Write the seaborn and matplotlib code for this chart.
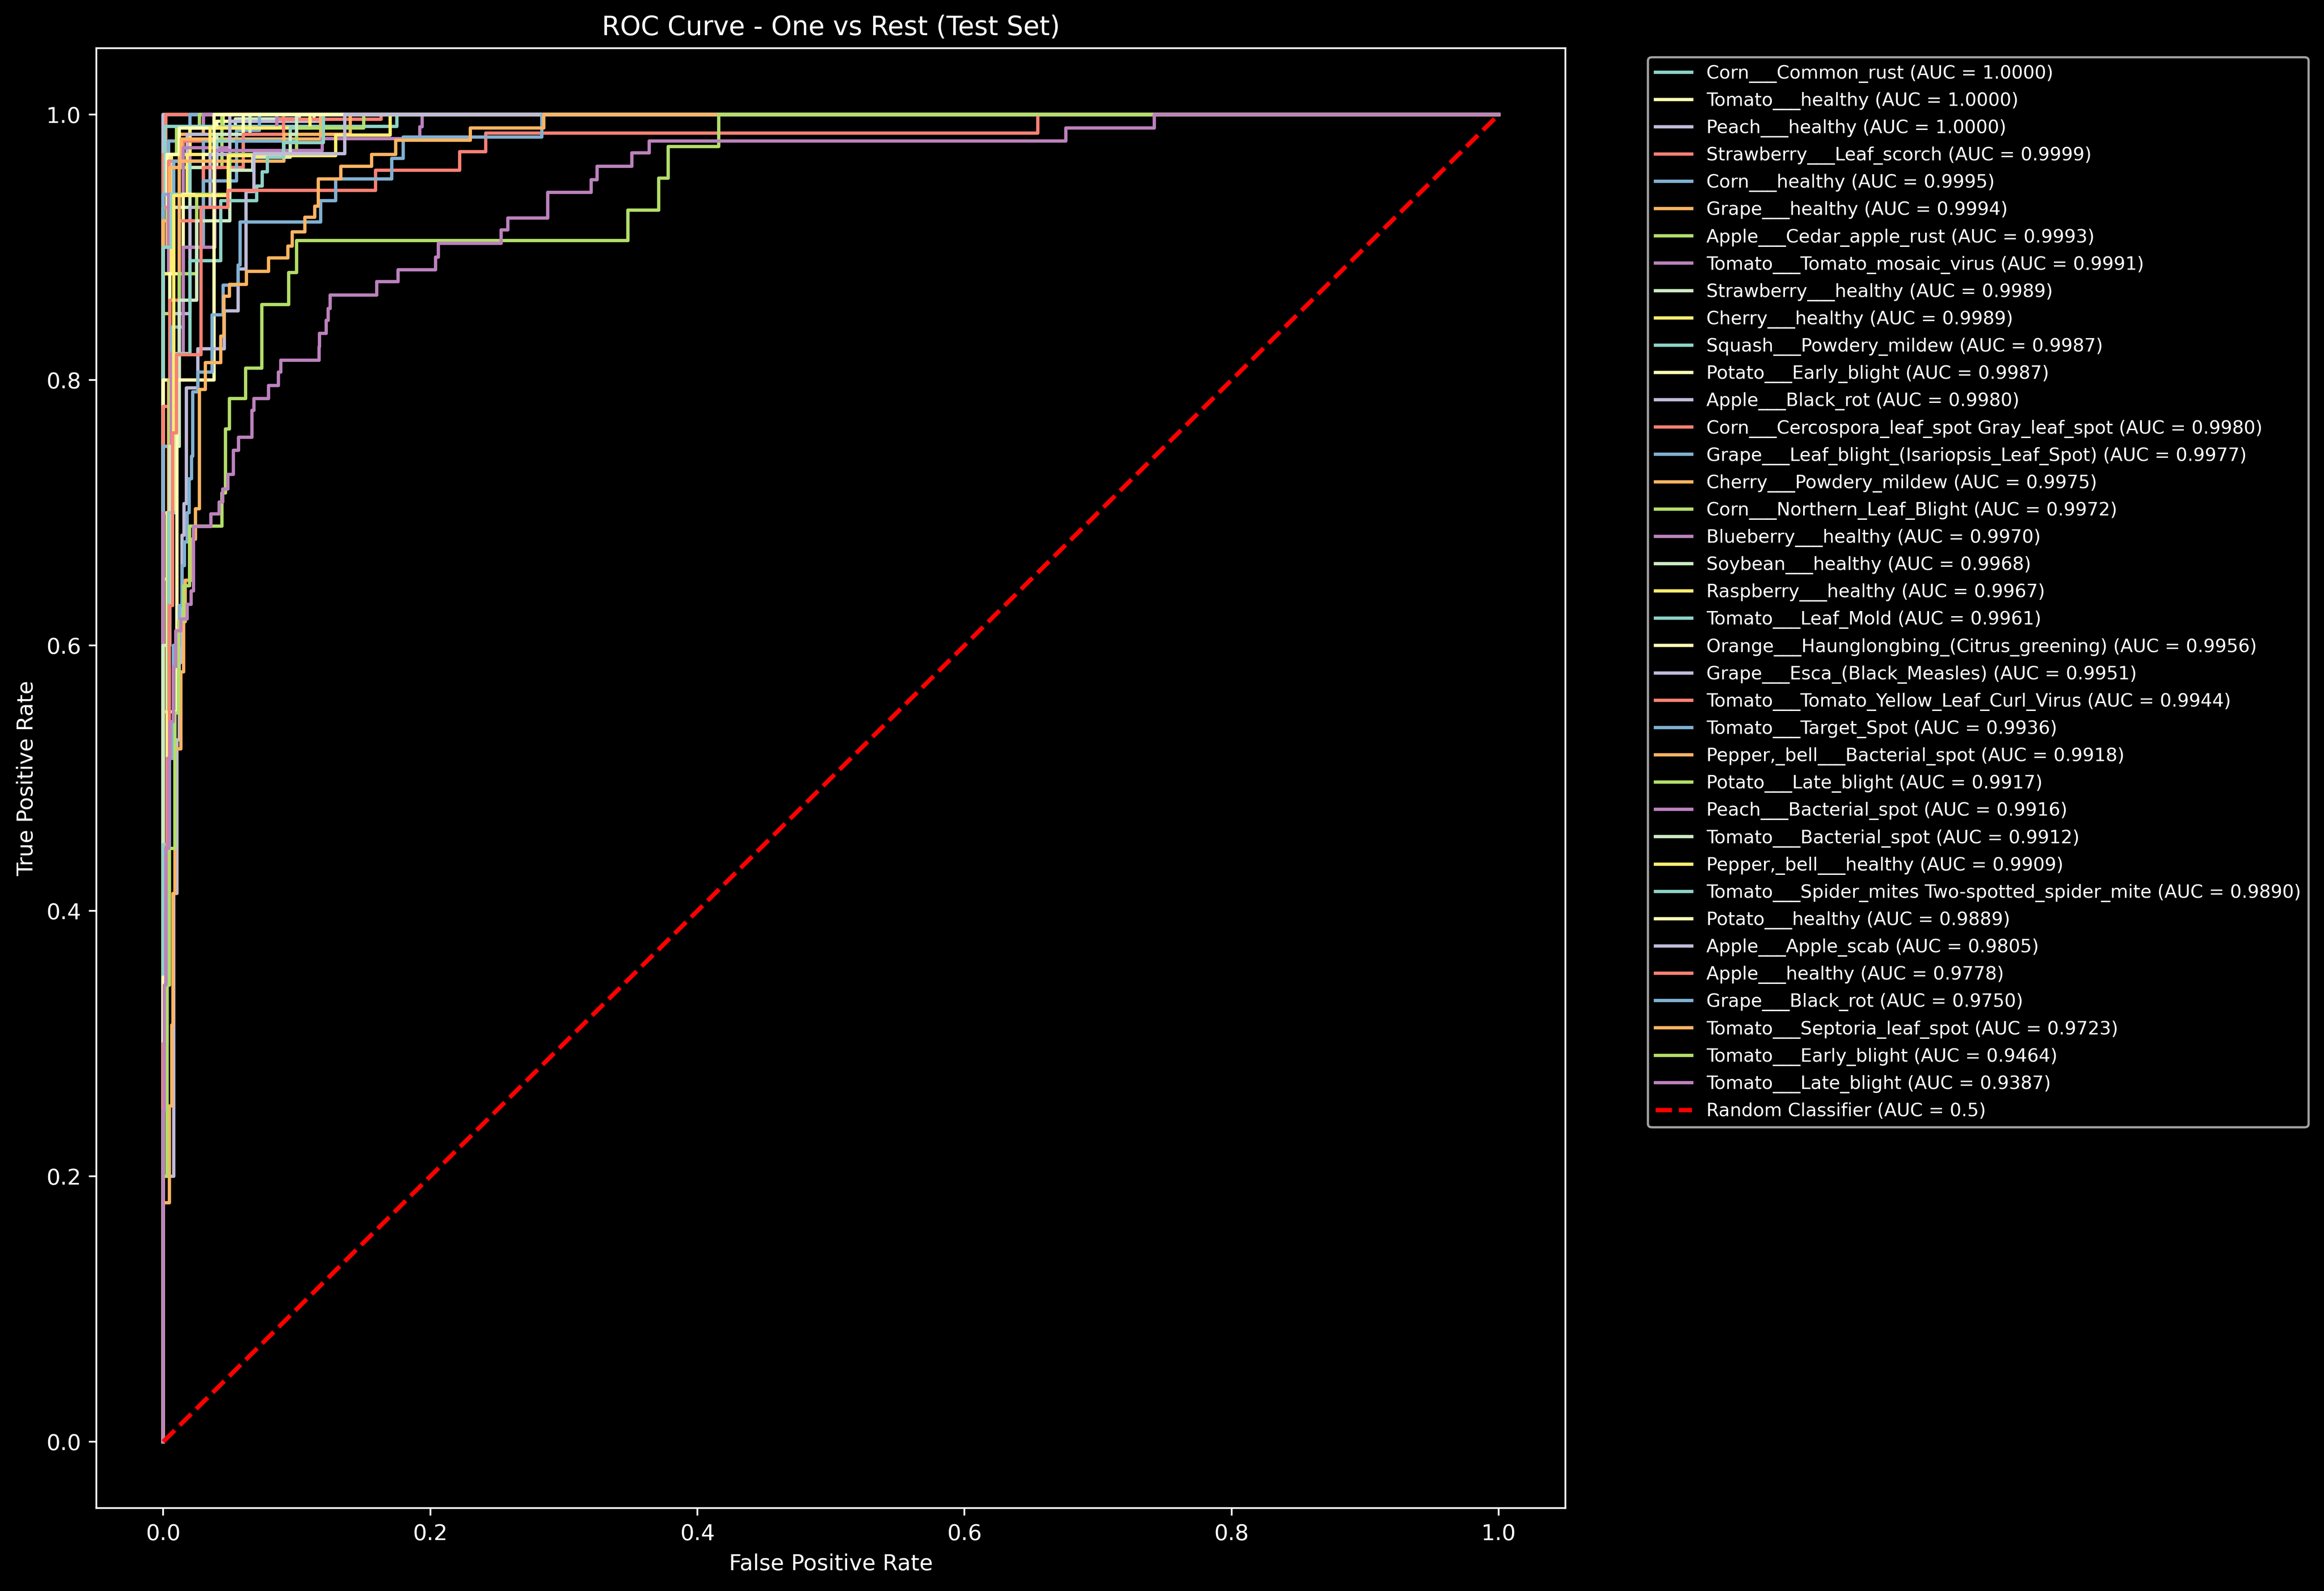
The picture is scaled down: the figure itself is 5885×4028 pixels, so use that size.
import matplotlib
matplotlib.use("Agg")
import matplotlib.pyplot as plt
import seaborn as sns

# Classes ordered by AUC (as in the legend)
class_names = [
    "Corn___Common_rust", "Tomato___healthy", "Peach___healthy",
    "Strawberry___Leaf_scorch", "Corn___healthy", "Grape___healthy",
    "Apple___Cedar_apple_rust", "Tomato___Tomato_mosaic_virus",
    "Strawberry___healthy", "Cherry___healthy", "Squash___Powdery_mildew",
    "Potato___Early_blight", "Apple___Black_rot",
    "Corn___Cercospora_leaf_spot Gray_leaf_spot",
    "Grape___Leaf_blight_(Isariopsis_Leaf_Spot)", "Cherry___Powdery_mildew",
    "Corn___Northern_Leaf_Blight", "Blueberry___healthy", "Soybean___healthy",
    "Raspberry___healthy", "Tomato___Leaf_Mold",
    "Orange___Haunglongbing_(Citrus_greening)", "Grape___Esca_(Black_Measles)",
    "Tomato___Tomato_Yellow_Leaf_Curl_Virus", "Tomato___Target_Spot",
    "Pepper,_bell___Bacterial_spot", "Potato___Late_blight",
    "Peach___Bacterial_spot", "Tomato___Bacterial_spot", "Pepper,_bell___healthy",
    "Tomato___Spider_mites Two-spotted_spider_mite", "Potato___healthy",
    "Apple___Apple_scab", "Apple___healthy", "Grape___Black_rot",
    "Tomato___Septoria_leaf_spot", "Tomato___Early_blight", "Tomato___Late_blight",
]

auc_values = [
    1.0000, 1.0000, 1.0000, 0.9999, 0.9995, 0.9994, 0.9993, 0.9991, 0.9989,
    0.9989, 0.9987, 0.9987, 0.9980, 0.9980, 0.9977, 0.9975, 0.9972, 0.9970,
    0.9968, 0.9967, 0.9961, 0.9956, 0.9951, 0.9944, 0.9936, 0.9918, 0.9917,
    0.9916, 0.9912, 0.9909, 0.9890, 0.9889, 0.9805, 0.9778, 0.9750, 0.9723,
    0.9464, 0.9387,
]

# ROC corner points (top of each vertical step), one list per class
fpr_pts = [
    [0, 0, 1.0],
    [0, 0, 1.0],
    [0, 0, 1.0],
    [0, 0, 0.002, 1.0],
    [0, 0, 0.004, 0.02, 1.0],
    [0, 0, 0.003, 0.012, 0.03, 1.0],
    [0, 0, 0.003, 0.01, 0.027, 1.0],
    [0, 0, 0.005, 0.02, 0.03, 1.0],
    [0, 0, 0.004, 0.02, 0.054, 0.102, 1.0],
    [0, 0, 0.006, 0.02, 0.045, 1.0],
    [0, 0, 0.0015, 0.175, 1.0],
    [0, 0, 0.003, 0.012, 0.04, 0.113, 1.0],
    [0, 0, 0.005, 0.018, 0.05, 0.12, 1.0],
    [0, 0, 0.004, 0.015, 0.05, 0.085, 0.163, 1.0],
    [0, 0, 0.008, 0.03, 0.055, 0.072, 1.0],
    [0, 0, 0.005, 0.0136, 0.118, 1.0],
    [0, 0, 0.005, 0.012, 0.044, 1.0],
    [0, 0, 0.004, 0.015, 0.05, 0.085, 1.0],
    [0, 0, 0.008, 0.02, 0.04, 0.065, 1.0],
    [0, 0, 0.006, 0.018, 0.035, 0.11, 1.0],
    [0, 0, 0.006, 0.02, 0.04, 0.095, 0.12, 1.0],
    [0, 0, 0.005, 0.015, 0.03, 0.06, 1.0],
    [0, 0, 0.008, 0.02, 0.035, 0.05, 1.0],
    [0, 0, 0.005, 0.012, 0.03, 0.06, 0.09, 1.0],
    [0, 0, 0.006, 0.015, 0.03, 0.055, 0.1, 1.0],
    [0, 0, 0.004, 0.012, 0.0905, 0.14, 1.0],
    [0, 0, 0.005, 0.012, 0.025, 0.05, 0.1, 0.15, 1.0],
    [0, 0, 0.006, 0.015, 0.0385, 0.119, 0.192, 0.194, 1.0],
    [0, 0, 0.005, 0.012, 0.025, 0.05, 0.067, 0.095, 0.1, 1.0],
    [0, 0, 0.003, 0.008, 0.0487, 0.129, 0.17, 1.0],
    [0, 0, 0.004, 0.01, 0.02, 0.043, 0.07, 0.074, 0.078, 0.09, 0.12, 1.0],
    [0, 0, 0.004, 0.0104, 0.038, 1.0],
    [0, 0, 0.008, 0.0104, 0.012, 0.013, 0.014, 0.0157, 0.0175, 0.026, 0.0458,
     0.056, 0.062, 0.068, 0.136, 1.0],
    [0, 0, 0.002, 0.003, 0.0047, 0.007, 0.01, 0.0284, 0.0485, 0.159, 0.222,
     0.2416, 0.655, 1.0],
    [0, 0, 0.003, 0.0047, 0.0077, 0.012, 0.0142, 0.016, 0.018, 0.0195, 0.0213,
     0.022, 0.026, 0.0367, 0.0449, 0.056, 0.0577, 0.118, 0.129, 0.171, 0.1797,
     0.2836, 1.0],
    [0, 0, 0.0047, 0.0064, 0.0072, 0.0089, 0.0132, 0.0154, 0.0166, 0.0216,
     0.0243, 0.027, 0.0316, 0.043, 0.0454, 0.0496, 0.0624, 0.0788, 0.0933,
     0.0967, 0.106, 0.1136, 0.116, 0.133, 0.156, 0.174, 0.230, 0.285, 1.0],
    [0, 0, 0.003, 0.0047, 0.0089, 0.0115, 0.0154, 0.0198, 0.044, 0.0467,
     0.0497, 0.0618, 0.0737, 0.094, 0.100, 0.348, 0.371, 0.378, 0.416, 1.0],
    [0, 0, 0.0008, 0.0021, 0.0039, 0.0053, 0.0075, 0.0094, 0.0131, 0.0178,
     0.0208, 0.0228, 0.0358, 0.042, 0.0446, 0.0485, 0.0526, 0.0565, 0.0665,
     0.068, 0.079, 0.0863, 0.088, 0.1166, 0.117, 0.122, 0.1236, 0.125, 0.160,
     0.176, 0.204, 0.206, 0.253, 0.258, 0.288, 0.3205, 0.325, 0.351, 0.364,
     0.676, 0.742, 1.0],
]

tpr_pts = [
    [0, 1, 1],
    [0, 1, 1],
    [0, 1, 1],
    [0, 0.97, 1, 1],
    [0, 0.93, 0.98, 1, 1],
    [0, 0.9, 0.96, 0.985, 1, 1],
    [0, 0.92, 0.97, 0.99, 1, 1],
    [0, 0.92, 0.965, 0.99, 1, 1],
    [0, 0.94, 0.97, 0.99, 0.9967, 1, 1],
    [0, 0.93, 0.97, 0.99, 1, 1],
    [0, 0.94, 0.991, 1, 1],
    [0, 0.93, 0.97, 0.99, 0.995, 1, 1],
    [0, 0.93, 0.965, 0.985, 0.995, 1, 1],
    [0, 0.93, 0.965, 0.98, 0.99, 0.9963, 1, 1],
    [0, 0.94, 0.965, 0.98, 0.988, 1, 1],
    [0, 0.92, 0.96, 0.9815, 1, 1],
    [0, 0.85, 0.93, 0.96, 1, 1],
    [0, 0.88, 0.94, 0.975, 0.99, 1, 1],
    [0, 0.88, 0.93, 0.96, 0.985, 1, 1],
    [0, 0.88, 0.94, 0.97, 0.99, 1, 1],
    [0, 0.9, 0.94, 0.965, 0.98, 0.99, 1, 1],
    [0, 0.8, 0.88, 0.94, 0.97, 1, 1],
    [0, 0.75, 0.85, 0.93, 0.97, 1, 1],
    [0, 0.78, 0.86, 0.92, 0.96, 0.985, 1, 1],
    [0, 0.75, 0.84, 0.9, 0.95, 0.98, 1, 1],
    [0, 0.55, 0.8, 0.965, 0.985, 1, 1],
    [0, 0.65, 0.8, 0.88, 0.94, 0.97, 0.99, 1, 1],
    [0, 0.7, 0.82, 0.9, 0.973, 0.982, 0.9907, 1, 1],
    [0, 0.6, 0.75, 0.86, 0.92, 0.958, 0.968, 0.985, 1, 1],
    [0, 0.3, 0.7, 0.939, 0.969, 0.9845, 1, 1],
    [0, 0.45, 0.7, 0.82, 0.89, 0.935, 0.946, 0.957, 0.968, 0.979, 1, 1],
    [0, 0.35, 0.55, 0.8, 1, 1],
    [0, 0.2, 0.413, 0.529, 0.587, 0.61, 0.683, 0.707, 0.794, 0.8235, 0.852,
     0.8836, 0.942, 0.9705, 1, 1],
    [0, 0.3, 0.4, 0.515, 0.63, 0.76, 0.819, 0.93, 0.943, 0.958, 0.972, 0.986,
     1, 1],
    [0, 0.2, 0.41, 0.515, 0.6, 0.63, 0.66, 0.678, 0.70, 0.7256, 0.7426, 0.791,
     0.806, 0.849, 0.8714, 0.8866, 0.919, 0.935, 0.9516, 0.967, 0.983, 1, 1],
    [0, 0.18, 0.253, 0.314, 0.413, 0.522, 0.58, 0.618, 0.649, 0.68, 0.703,
     0.793, 0.813, 0.833, 0.863, 0.872, 0.882, 0.892, 0.901, 0.9115, 0.9226,
     0.931, 0.9516, 0.961, 0.970, 0.9806, 0.99, 1, 1],
    [0, 0.2, 0.344, 0.447, 0.549, 0.618, 0.645, 0.690, 0.715, 0.763, 0.786,
     0.809, 0.857, 0.881, 0.905, 0.928, 0.952, 0.976, 1.0, 1.0],
    [0, 0.25, 0.344, 0.447, 0.515, 0.5426, 0.584, 0.611, 0.62, 0.631, 0.641,
     0.6896, 0.699, 0.708, 0.718, 0.729, 0.747, 0.757, 0.777, 0.786, 0.796,
     0.806, 0.815, 0.825, 0.835, 0.845, 0.854, 0.864, 0.874, 0.883, 0.8926,
     0.903, 0.913, 0.922, 0.9415, 0.951, 0.961, 0.971, 0.980, 0.990, 1.0, 1.0],
]

diag = [0, 1]

plt.style.use("dark_background")
colores = plt.rcParams["axes.prop_cycle"].by_key()["color"]

fig = plt.figure(figsize=(14.7125, 10.07), dpi=400)
ax = fig.add_axes([0.0415, 0.0521, 0.6321, 0.9176])

for i, nome in enumerate(class_names):
    sns.lineplot(x=fpr_pts[i], y=tpr_pts[i], ax=ax, color=colores[i % len(colores)],
                 linewidth=1.5, drawstyle="steps-post", estimator=None, sort=False,
                 label=f"{nome} (AUC = {auc_values[i]:.4f})")

sns.lineplot(x=diag, y=diag, ax=ax, color="red", linestyle="--", linewidth=2,
             estimator=None, sort=False, label="Random Classifier (AUC = 0.5)")

ax.set_xlim(-0.05, 1.05)
ax.set_ylim(-0.05, 1.05)
ax.set_xlabel("False Positive Rate")
ax.set_ylabel("True Positive Rate")
ax.set_title("ROC Curve - One vs Rest (Test Set)")
ax.legend(bbox_to_anchor=(1.05, 1), loc="upper left", fontsize="small")

fig.savefig("out.png", dpi=400)
